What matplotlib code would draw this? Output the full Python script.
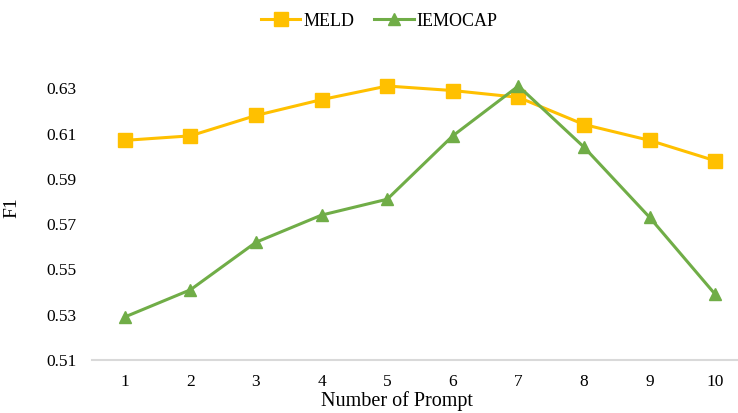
import matplotlib
matplotlib.use("Agg")
import matplotlib.pyplot as plt

prompts = [1, 2, 3, 4, 5, 6, 7, 8, 9, 10]
meld = [0.607, 0.609, 0.618, 0.625, 0.631, 0.629, 0.626, 0.614, 0.607, 0.598]
iemocap = [0.529, 0.541, 0.562, 0.574, 0.581, 0.609, 0.631, 0.604, 0.573, 0.539]
yticks = [0.51, 0.53, 0.55, 0.57, 0.59, 0.61, 0.63]

plt.rcParams['font.family'] = ['Liberation Serif', 'DejaVu Serif']

W, H = 738, 413
fig = plt.figure(figsize=(W / 100, H / 100), dpi=100)
left, right = 92, 748
bottom, top = 360, 43
ax = fig.add_axes([left / W, (H - bottom) / H, (right - left) / W, (bottom - top) / H])

ax.plot(prompts, meld, color='#FFC000', lw=2.2, marker='s', markersize=9.5, label='MELD')
ax.plot(prompts, iemocap, color='#70AD47', lw=2.2, marker='^', markersize=9, label='IEMOCAP')

ax.set_xlim(0.5, 10.5)
ax.set_ylim(0.51, 0.65)
ax.set_xticks(prompts)
ax.set_xticklabels([str(p) for p in prompts])
ax.set_yticks(yticks)
ax.set_yticklabels([f"{v:.2f}" for v in yticks])
ax.tick_params(axis='both', length=0, labelsize=12.5)
ax.tick_params(axis='x', pad=10)
ax.tick_params(axis='y', pad=11)

for s in ['top', 'right', 'left']:
    ax.spines[s].set_visible(False)
ax.spines['bottom'].set_color('#D9D9D9')
ax.spines['bottom'].set_linewidth(1.5)

ax.set_ylabel('F1', fontsize=14)
ax.yaxis.set_label_coords(-(92 - 20) / (right - left), (360 - 208) / (bottom - top))
ax.set_xlabel('Number of Prompt', fontsize=14.5)
ax.xaxis.set_label_coords((397 - left) / (right - left), -(401 - 360) / (bottom - top))
ax.xaxis.label.set_verticalalignment('center')

fig.legend(loc='center', bbox_to_anchor=(379 / W, 1 - 21 / H), ncol=2, frameon=False,
           fontsize=13, handlelength=2.2, columnspacing=1.1, handletextpad=0.15)

fig.savefig('out.png', dpi=100)
